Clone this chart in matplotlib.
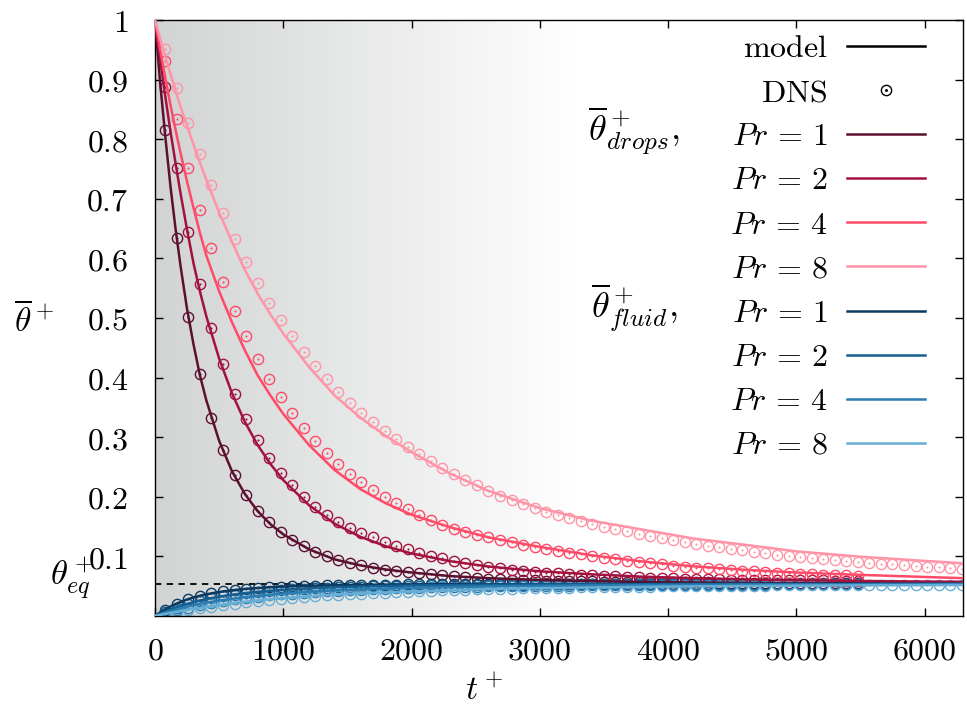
import numpy as np
import matplotlib
matplotlib.use("Agg")
import matplotlib.pyplot as plt
from matplotlib.colors import LinearSegmentedColormap
from matplotlib.lines import Line2D
from matplotlib.transforms import blended_transform_factory

plt.rcParams["mathtext.fontset"] = "cm"
plt.rcParams["font.family"] = "serif"
plt.rcParams["font.serif"] = ["DejaVu Serif"]
plt.rcParams["font.size"] = 23

# ---- data ----
pr_values = [1, 2, 4, 8]
theta_eq = 0.054

# DNS sampling times
t_dns = [80, 170, 260, 350, 440, 530, 620, 710, 800, 890, 980, 1070, 1160, 1250,
         1340, 1430, 1520, 1610, 1700, 1790, 1880, 1970, 2060, 2150, 2240, 2330,
         2420, 2510, 2600, 2690, 2780, 2870, 2960, 3050, 3140, 3230, 3320, 3410,
         3500, 3590, 3680, 3770, 3860, 3950, 4040, 4130, 4220, 4310, 4400, 4490,
         4580, 4670, 4760, 4850, 4940, 5030, 5120, 5210, 5300, 5390, 5480, 5570,
         5660, 5750, 5840, 5930, 6020, 6110, 6200, 6290]

dns_drops_pr1 = [0.815, 0.634, 0.501, 0.406, 0.333, 0.278, 0.236, 0.203, 0.177, 0.157,
                 0.141, 0.128, 0.117, 0.108, 0.100, 0.094, 0.089, 0.085, 0.081, 0.078,
                 0.0755, 0.0735, 0.0715, 0.070, 0.068, 0.0665, 0.065, 0.0635, 0.0625, 0.0615,
                 0.0605, 0.0600, 0.0596, 0.0592, 0.0588, 0.0585, 0.0582, 0.0579, 0.0577, 0.0575,
                 0.0573, 0.0571, 0.0569, 0.0568, 0.0566, 0.0565, 0.0564, 0.0563, 0.0562, 0.0561,
                 0.0560, 0.0559, 0.0559, 0.0558, 0.0558, 0.0557, 0.0557, 0.0556, 0.0556, 0.0556,
                 0.0555]
dns_drops_pr2 = [0.888, 0.752, 0.644, 0.557, 0.483, 0.422, 0.372, 0.330, 0.295, 0.265,
                 0.240, 0.219, 0.200, 0.183, 0.169, 0.158, 0.148, 0.140, 0.132, 0.125,
                 0.118, 0.112, 0.106, 0.101, 0.097, 0.093, 0.089, 0.086, 0.083, 0.080,
                 0.0775, 0.0758, 0.0742, 0.0728, 0.0715, 0.0703, 0.0692, 0.0682, 0.0673, 0.0664,
                 0.0656, 0.0649, 0.0643, 0.0637, 0.0632, 0.0627, 0.0623, 0.0619, 0.0615, 0.0612,
                 0.0609, 0.0606, 0.0604, 0.0602, 0.0600, 0.0598, 0.0597, 0.0596, 0.0595, 0.0594,
                 0.0593]
dns_drops_pr4 = [0.931, 0.834, 0.752, 0.681, 0.618, 0.561, 0.512, 0.469, 0.431, 0.398,
                 0.368, 0.341, 0.316, 0.293, 0.273, 0.255, 0.238, 0.224, 0.211, 0.199,
                 0.189, 0.179, 0.170, 0.161, 0.153, 0.146, 0.1405, 0.136, 0.1318, 0.128,
                 0.1235, 0.1195, 0.116, 0.1125, 0.1095, 0.1065, 0.1035, 0.1008, 0.098, 0.0955,
                 0.093, 0.0905, 0.0885, 0.0865, 0.0845, 0.0828, 0.0812, 0.0797, 0.0784, 0.0772,
                 0.076, 0.0749, 0.0739, 0.0729, 0.072, 0.0711, 0.0703, 0.0695, 0.0688, 0.0681,
                 0.0675]
dns_drops_pr8 = [0.952, 0.886, 0.828, 0.775, 0.723, 0.677, 0.633, 0.594, 0.558, 0.526,
                 0.496, 0.469, 0.443, 0.419, 0.397, 0.376, 0.357, 0.340, 0.325, 0.311,
                 0.297, 0.284, 0.272, 0.260, 0.249, 0.238, 0.228, 0.219, 0.210, 0.202,
                 0.195, 0.188, 0.181, 0.175, 0.170, 0.165, 0.160, 0.155, 0.150, 0.146,
                 0.142, 0.138, 0.134, 0.131, 0.127, 0.124, 0.121, 0.118, 0.1155, 0.113,
                 0.110, 0.1075, 0.105, 0.1025, 0.1005, 0.0985, 0.0967, 0.095, 0.0934, 0.0919,
                 0.0905, 0.0891, 0.0878, 0.0865, 0.0852, 0.084, 0.0828, 0.0816, 0.0805, 0.0795]

dns_fluid_pr1 = [0.0106, 0.0209, 0.0285, 0.0339, 0.0381, 0.0412, 0.0436, 0.0455, 0.0470, 0.0481,
                 0.0490, 0.0498, 0.0504, 0.0509, 0.0514, 0.0517, 0.0520, 0.0522, 0.0525, 0.0526,
                 0.0528, 0.0529, 0.0530, 0.0531, 0.0532, 0.0533, 0.0534, 0.0535, 0.0535, 0.0536,
                 0.0536, 0.0537, 0.0537, 0.0537, 0.0537, 0.0537, 0.0538, 0.0538, 0.0538, 0.0538,
                 0.0538, 0.0538, 0.0538, 0.0538, 0.0539, 0.0539, 0.0539, 0.0539, 0.0539, 0.0539,
                 0.0539, 0.0539, 0.0539, 0.0539, 0.0539, 0.0539, 0.0539, 0.0539, 0.0539, 0.0539,
                 0.0539]
dns_fluid_pr2 = [0.0064, 0.0142, 0.0203, 0.0253, 0.0295, 0.0330, 0.0358, 0.0382, 0.0402, 0.0420,
                 0.0434, 0.0446, 0.0457, 0.0466, 0.0474, 0.0481, 0.0486, 0.0491, 0.0495, 0.0499,
                 0.0503, 0.0507, 0.0510, 0.0513, 0.0515, 0.0518, 0.0520, 0.0522, 0.0523, 0.0525,
                 0.0527, 0.0528, 0.0529, 0.0529, 0.0530, 0.0531, 0.0531, 0.0532, 0.0532, 0.0533,
                 0.0533, 0.0534, 0.0534, 0.0534, 0.0535, 0.0535, 0.0535, 0.0535, 0.0536, 0.0536,
                 0.0536, 0.0536, 0.0536, 0.0536, 0.0537, 0.0537, 0.0537, 0.0537, 0.0537, 0.0537,
                 0.0537]
dns_fluid_pr4 = [0.0039, 0.0095, 0.0142, 0.0182, 0.0218, 0.0251, 0.0279, 0.0303, 0.0325, 0.0344,
                 0.0361, 0.0376, 0.0390, 0.0404, 0.0415, 0.0425, 0.0435, 0.0443, 0.0450, 0.0457,
                 0.0463, 0.0469, 0.0474, 0.0479, 0.0483, 0.0487, 0.0491, 0.0493, 0.0496, 0.0498,
                 0.0500, 0.0503, 0.0505, 0.0507, 0.0508, 0.0510, 0.0512, 0.0513, 0.0515, 0.0516,
                 0.0518, 0.0519, 0.0520, 0.0521, 0.0523, 0.0524, 0.0524, 0.0525, 0.0526, 0.0527,
                 0.0527, 0.0528, 0.0528, 0.0529, 0.0530, 0.0530, 0.0531, 0.0531, 0.0532, 0.0532,
                 0.0532]
dns_fluid_pr8 = [0.0027, 0.0065, 0.0098, 0.0128, 0.0158, 0.0184, 0.0209, 0.0232, 0.0252, 0.0271,
                 0.0288, 0.0303, 0.0318, 0.0332, 0.0344, 0.0356, 0.0367, 0.0377, 0.0385, 0.0393,
                 0.0401, 0.0409, 0.0416, 0.0422, 0.0429, 0.0435, 0.0441, 0.0446, 0.0451, 0.0456,
                 0.0459, 0.0463, 0.0467, 0.0471, 0.0474, 0.0477, 0.0479, 0.0482, 0.0485, 0.0487,
                 0.0490, 0.0492, 0.0494, 0.0496, 0.0498, 0.0500, 0.0502, 0.0503, 0.0505, 0.0506,
                 0.0508, 0.0509, 0.0511, 0.0512, 0.0513, 0.0515, 0.0516, 0.0517, 0.0517, 0.0518,
                 0.0519, 0.0520, 0.0521, 0.0521, 0.0522, 0.0523, 0.0524, 0.0524, 0.0525, 0.0525]

# model curves
t_model = [0, 40, 80, 120, 160, 200, 250, 300, 350, 400, 500, 600, 700, 800, 900, 1000,
           1200, 1400, 1600, 1800, 2000, 2300, 2600, 3000, 3400, 3800, 4200, 4600, 5000,
           5500, 6000, 6300]

model_drops_pr1 = [1.0, 0.895, 0.805, 0.722, 0.650, 0.586, 0.515, 0.456, 0.404, 0.362, 0.294,
                   0.243, 0.205, 0.176, 0.154, 0.137, 0.112, 0.095, 0.085, 0.078, 0.073, 0.067,
                   0.0635, 0.0605, 0.0585, 0.0572, 0.0563, 0.0557, 0.0552, 0.0548, 0.0545, 0.0544]
model_drops_pr2 = [1.0, 0.934, 0.872, 0.814, 0.760, 0.708, 0.648, 0.592, 0.545, 0.503, 0.432,
                   0.374, 0.326, 0.287, 0.255, 0.228, 0.186, 0.155, 0.133, 0.117, 0.105, 0.092,
                   0.083, 0.075, 0.070, 0.066, 0.0635, 0.0615, 0.060, 0.0588, 0.0578, 0.0574]
model_drops_pr4 = [1.0, 0.950, 0.903, 0.858, 0.816, 0.776, 0.729, 0.685, 0.643, 0.605, 0.545,
                   0.493, 0.446, 0.404, 0.370, 0.339, 0.287, 0.245, 0.213, 0.189, 0.170, 0.149,
                   0.132, 0.116, 0.102, 0.0915, 0.0833, 0.0775, 0.073, 0.069, 0.0655, 0.0635]
model_drops_pr8 = [1.0, 0.969, 0.939, 0.910, 0.882, 0.854, 0.822, 0.791, 0.761, 0.732, 0.677,
                   0.628, 0.581, 0.541, 0.506, 0.474, 0.418, 0.370, 0.333, 0.302, 0.275, 0.239,
                   0.210, 0.181, 0.160, 0.145, 0.130, 0.1195, 0.1085, 0.0995, 0.0925, 0.0885]

model_fluid_pr1 = [0, 0.0060, 0.0111, 0.0159, 0.0200, 0.0236, 0.0277, 0.0311, 0.0340, 0.0364,
                   0.0403, 0.0432, 0.0454, 0.0470, 0.0483, 0.0493, 0.0507, 0.0517, 0.0522, 0.0526,
                   0.0529, 0.0533, 0.0535, 0.0536, 0.0537, 0.0538, 0.0539, 0.0539, 0.0539, 0.0540,
                   0.0540, 0.0540]
model_fluid_pr2 = [0, 0.0038, 0.0073, 0.0106, 0.0137, 0.0167, 0.0201, 0.0233, 0.0260, 0.0284,
                   0.0324, 0.0357, 0.0385, 0.0407, 0.0425, 0.0441, 0.0465, 0.0482, 0.0495, 0.0504,
                   0.0511, 0.0518, 0.0523, 0.0528, 0.0531, 0.0533, 0.0535, 0.0536, 0.0537, 0.0537,
                   0.0538, 0.0538]
model_fluid_pr4 = [0, 0.0029, 0.0055, 0.0081, 0.0105, 0.0128, 0.0155, 0.0180, 0.0204, 0.0225,
                   0.0260, 0.0289, 0.0316, 0.0340, 0.0360, 0.0377, 0.0407, 0.0431, 0.0449, 0.0463,
                   0.0474, 0.0486, 0.0495, 0.0505, 0.0513, 0.0519, 0.0523, 0.0527, 0.0529, 0.0531,
                   0.0533, 0.0535]
model_fluid_pr8 = [0, 0.0018, 0.0035, 0.0051, 0.0067, 0.0083, 0.0102, 0.0119, 0.0136, 0.0153,
                   0.0184, 0.0212, 0.0239, 0.0262, 0.0282, 0.0300, 0.0332, 0.0360, 0.0381, 0.0398,
                   0.0414, 0.0434, 0.0451, 0.0467, 0.0479, 0.0488, 0.0497, 0.0503, 0.0509, 0.0514,
                   0.0518, 0.0520]

x_ticks = [0, 1000, 2000, 3000, 4000, 5000, 6000]
y_ticks = [0.1, 0.2, 0.3, 0.4, 0.5, 0.6, 0.7, 0.8, 0.9, 1.0]
y_tick_labels = ["0.1", "0.2", "0.3", "0.4", "0.5", "0.6", "0.7", "0.8", "0.9", "1"]

drop_colors = ["#5c1030", "#a3123f", "#ff4a68", "#ff94a7"]
fluid_colors = ["#0b3a62", "#155f91", "#2b7cb0", "#67aed6"]

dns_drops = [dns_drops_pr1, dns_drops_pr2, dns_drops_pr4, dns_drops_pr8]
dns_fluid = [dns_fluid_pr1, dns_fluid_pr2, dns_fluid_pr4, dns_fluid_pr8]
model_drops = [model_drops_pr1, model_drops_pr2, model_drops_pr4, model_drops_pr8]
model_fluid = [model_fluid_pr1, model_fluid_pr2, model_fluid_pr4, model_fluid_pr8]

MS = 7.4


def dns_points(ax, t, y, color):
    # gnuplot-like "circle with a dot" symbol
    ax.plot(t, y, ls="none", marker="o", ms=MS, mfc="none", mec=color, mew=1.0, zorder=2)
    ax.plot(t, y, ls="none", marker="o", ms=1.1, mfc=color, mec=color, mew=0.3, zorder=2)


fig = plt.figure(figsize=(9.67, 7.06), dpi=100)
ax = fig.add_axes([155 / 967, 1 - 616 / 706, 808 / 967, 596 / 706])

# grey-to-white background shading
bg = LinearSegmentedColormap.from_list("bg", [(0, "#d2d4d4"), (0.52, "#ffffff"), (1, "#ffffff")])
ax.imshow(np.linspace(0, 1, 512)[None, :], extent=(0, 6300, 0, 1), aspect="auto",
          cmap=bg, zorder=0, interpolation="bilinear")

ax.axhline(theta_eq, color="black", lw=1.3, ls=(0, (3.5, 3)), zorder=1)

for i in range(4):
    y = dns_drops[i]
    dns_points(ax, t_dns[:len(y)], y, drop_colors[i])
    ax.plot(t_model, model_drops[i], color=drop_colors[i], lw=1.8, zorder=3)
for i in range(4):
    y = dns_fluid[i]
    dns_points(ax, t_dns[:len(y)], y, fluid_colors[i])
    ax.plot(t_model, model_fluid[i], color=fluid_colors[i], lw=1.8, zorder=3)

ax.set_xlim(0, 6300)
ax.set_ylim(0, 1)
ax.set_xticks(x_ticks)
ax.set_xticklabels([f"${v}$" for v in x_ticks])
ax.set_yticks(y_ticks)
ax.set_yticklabels([f"${v}$" for v in y_tick_labels])
ax.tick_params(direction="in", length=6, width=1, top=True, right=True, labelsize=23)
ax.tick_params(axis="x", pad=14)
ax.tick_params(axis="y", pad=19)
for s in ax.spines.values():
    s.set_linewidth(1.0)

ax.set_xlabel(r"$t^+$", fontsize=24)
ax.xaxis.set_label_coords(0.408, -0.099)
ax.set_ylabel(r"$\overline{\theta}^+$", fontsize=24, rotation=0, va="center", ha="center")
ax.yaxis.set_label_coords(-0.150, 0.497)

trans = blended_transform_factory(ax.transAxes, ax.transData)
ax.text(-0.075, theta_eq + 0.009, r"$\theta^+_{eq}$", transform=trans, ha="right",
        va="center", fontsize=25)

# legend
handles = [Line2D([], [], color="black", lw=1.8),
           (Line2D([], [], ls="none", marker="o", ms=MS, mfc="none", mec="black", mew=1.0),
            Line2D([], [], ls="none", marker="o", ms=1.1, mfc="black", mec="black"))]
labels = [r"$\mathrm{model}$", r"$\mathrm{DNS}$"]
for i, p in enumerate(pr_values):
    handles.append(Line2D([], [], color=drop_colors[i], lw=1.8))
    labels.append(rf"$Pr\,=\,{p}$")
for i, p in enumerate(pr_values):
    handles.append(Line2D([], [], color=fluid_colors[i], lw=1.8))
    labels.append(rf"$Pr\,=\,{p}$")
ax.legend(handles, labels, loc="upper right", bbox_to_anchor=(0.953, 0.978),
          frameon=False, markerfirst=False, borderpad=0, borderaxespad=0,
          handlelength=2.45, handletextpad=0.6, labelspacing=0.41, fontsize=23)

ax.text(0.536, 0.814, r"$\overline{\theta}^+_{drops},$", transform=ax.transAxes,
        fontsize=26, ha="left", va="center")
ax.text(0.539, 0.517, r"$\overline{\theta}^+_{fluid},$", transform=ax.transAxes,
        fontsize=26, ha="left", va="center")

fig.savefig("out.png", dpi=100)
